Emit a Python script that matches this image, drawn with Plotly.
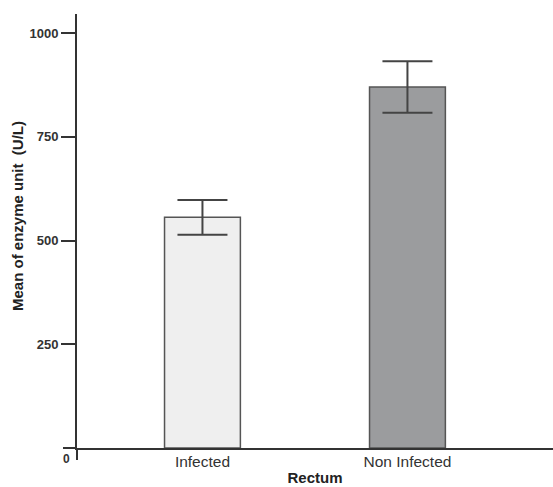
import plotly.graph_objects as go

categories = ["Infected", "Non Infected"]
means = [556, 870]
errors = [42, 62]
bar_colors = ["#efefef", "#9b9c9e"]
y_ticks = [250, 500, 750, 1000]

fig = go.Figure()
fig.add_trace(go.Bar(
    x=categories, y=means,
    width=0.37,
    marker=dict(color=bar_colors, line=dict(color="#555555", width=1.5)),
    error_y=dict(type="data", array=errors, visible=True, color="#444444", thickness=2, width=25),
    showlegend=False,
))

fig.update_layout(
    width=553, height=487,
    margin=dict(l=77, r=0, t=14, b=39),
    paper_bgcolor="white", plot_bgcolor="white",
    font=dict(family="Liberation Sans, Arial, sans-serif", color="#222222"),
    xaxis=dict(
        range=[-0.612, 1.71], showgrid=False, showline=True, linecolor="#333333", linewidth=2,
        ticks="", tickfont=dict(size=15.5, color="#333333"), ticklabelstandoff=-2,
        title=dict(text="<b>Rectum</b>", font=dict(size=15, color="#222222"), standoff=4),
        zeroline=False,
    ),
    yaxis=dict(
        range=[0, 1046], showgrid=False, showline=True, linecolor="#333333", linewidth=2,
        tickvals=y_ticks, ticktext=["<b>%d</b>" % v for v in y_ticks],
        ticks="outside", ticklen=14, tickwidth=1.5, tickcolor="#333333",
        tickfont=dict(size=13, color="#333333"),
        zeroline=False,
    ),
)

# y-axis title
fig.add_annotation(text="<b>Mean of enzyme unit  (U/L)</b>", xref="paper", yref="paper",
                   x=(17 - 77) / 476, y=(448 - 216) / 434, xanchor="center", yanchor="middle",
                   textangle=-90, showarrow=False, font=dict(size=15, color="#222222"))

# axis extensions beyond the plot area
fig.add_shape(type="line", xref="paper", yref="paper", x0=-14/476, x1=0, y0=0, y1=0,
              line=dict(color="#333333", width=2))
fig.add_shape(type="line", xref="paper", yref="paper", x0=0, x1=0, y0=-12/434, y1=0,
              line=dict(color="#333333", width=2))
fig.add_annotation(text="<b>0</b>", xref="paper", yref="paper", x=(66 - 77) / 476, y=-11/434,
                   xanchor="center", yanchor="middle",
                   showarrow=False, font=dict(size=12, color="#333333"))

fig.write_html("out.html", post_script="document.body.style.margin='0';",
               config={"displayModeBar": False})
